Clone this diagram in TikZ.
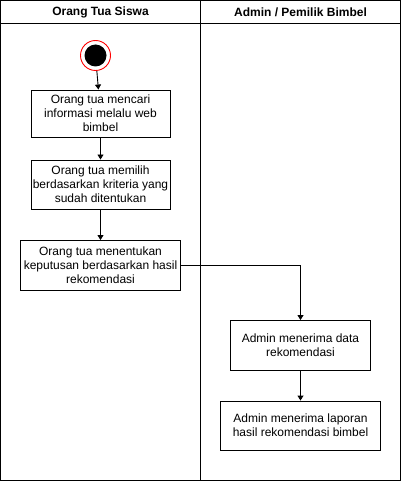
\documentclass[tikz,border=0pt]{standalone}
\usepackage{fontspec}
\setmainfont{Liberation Sans}
\usetikzlibrary{arrows.meta}
\begin{document}
\begin{tikzpicture}[x=1pt,y=-1pt,
  act/.style={draw,line width=0.9pt,align=center,inner sep=0pt,font=\fontsize{12}{14}\selectfont},
  flow/.style={draw,line width=0.9pt,-{Triangle[length=5pt,width=6pt]}},
  lane/.style={draw,line width=0.9pt}]
\useasboundingbox (0,0) rectangle (401,481);
\fill[white] (0,0) rectangle (401,481);
\draw[lane] (0.5,0.5) rectangle (400.5,480.5);
\draw[lane] (200.5,0.5) -- (200.5,480.5);
\draw[lane] (0.5,23.5) -- (400.5,23.5);
\node[font=\bfseries\fontsize{12}{14}\selectfont] (h1) at (100.5,12.5) {Orang Tua Siswa};
\node[font=\bfseries\fontsize{12}{14}\selectfont] (h2) at (300.5,12.5) {Admin / Pemilik Bimbel};
\node[circle,draw=red,line width=0.9pt,minimum size=30pt,inner sep=0pt] (s) at (95.5,55.5) {};
\node[circle,fill=black,minimum size=22pt,inner sep=0pt] at (s) {};
\node[act,minimum width=139pt,minimum height=47pt] (a1) at (100.5,113.5) {Orang tua mencari\\informasi melalu web\\bimbel};
\node[act,minimum width=139pt,minimum height=49pt] (a2) at (100.5,184.5) {Orang tua memilih\\berdasarkan kriteria yang\\sudah ditentukan};
\node[act,minimum width=160pt,minimum height=50pt] (a3) at (100.5,265.5) {Orang tua menentukan\\keputusan berdasarkan hasil\\rekomendasi};
\node[act,minimum width=140pt,minimum height=50pt] (a4) at (300.5,345.5) {Admin menerima data\\rekomendasi};
\node[act,minimum width=160pt,minimum height=49pt] (a5) at (300.5,425.5) {Admin menerima laporan\\hasil rekomendasi bimbel};
\draw[flow] (s) -- (a1);
\draw[flow] (a1) -- (a2);
\draw[flow] (a2) -- (a3);
\draw[flow] (a3.east) -| (a4.north);
\draw[flow] (a4) -- (a5);
\end{tikzpicture}
\end{document}
